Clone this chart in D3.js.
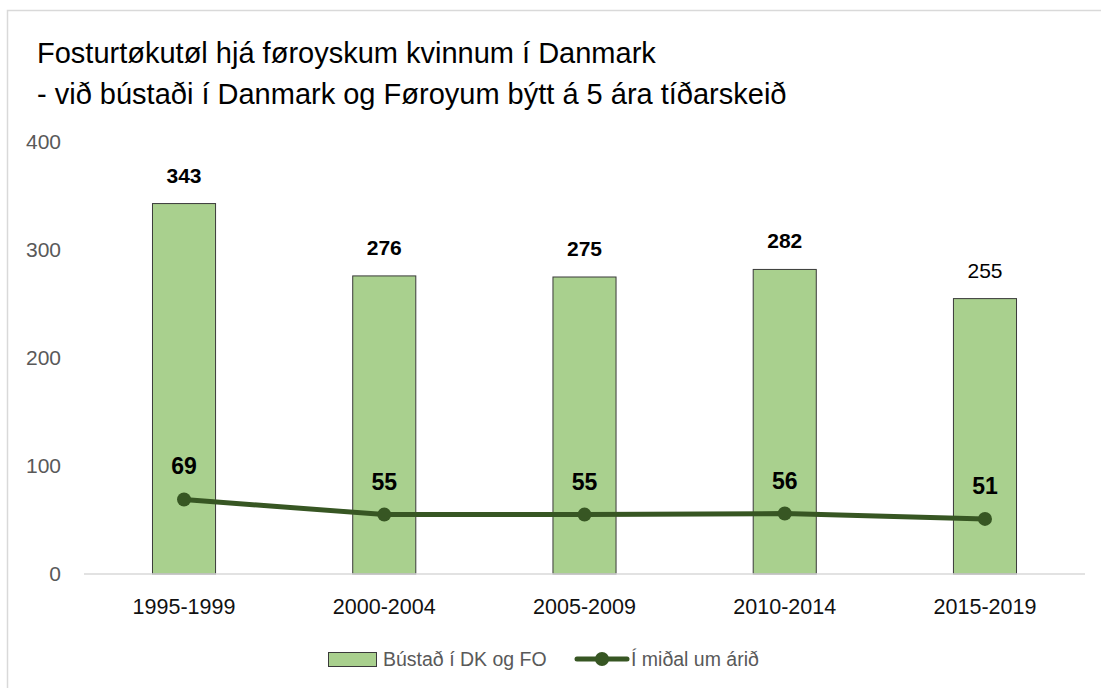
<!DOCTYPE html>
<html>
<head>
<meta charset="utf-8">
<script src="https://cdn.jsdelivr.net/npm/d3@7"></script>
<style>
  body { margin: 0; background: #fff; }
  svg { display: block; font-family: "Liberation Sans", Arial, sans-serif; }
</style>
</head>
<body>
<svg id="chart" width="1101" height="688"></svg>
<script>
// values
var periods = ["1995-1999", "2000-2004", "2005-2009", "2010-2014", "2015-2019"];
var totals = [343, 276, 275, 282, 255];
var perYear = [69, 55, 55, 56, 51];
var yTicks = [0, 100, 200, 300, 400];
var titleLines = ["Fosturtøkutøl hjá føroyskum kvinnum í Danmark",
                  "- við bústaði í Danmark og Føroyum býtt á 5 ára tíðarskeið"];
var seriesNames = ["Bústað í DK og FO", "Í miðal um árið"];

var svg = d3.select("#chart");
var barColor = "#a9d08e", lineColor = "#375623";

// outer chart frame
svg.append("rect").attr("x", 7.5).attr("y", 10.5).attr("width", 1110).attr("height", 700)
  .attr("fill", "none").attr("stroke", "#d9d9d9").attr("stroke-width", 1.5);

// title
svg.selectAll(".title").data(titleLines).enter().append("text")
  .attr("class", "title")
  .attr("x", 37).attr("y", function(d, i) { return 63 + i * 41; })
  .attr("font-size", 29).attr("fill", "#000")
  .text(function(d) { return d; });

var x = d3.scaleBand().domain(periods).range([84, 1085]).paddingInner(0.685).paddingOuter(0.342);
var y = d3.scaleLinear().domain([0, 400]).range([574, 142]);

// y axis labels (no line)
svg.append("g").selectAll("text").data(yTicks).enter().append("text")
  .attr("x", 61).attr("y", function(d) { return y(d) + 7; })
  .attr("text-anchor", "end").attr("font-size", 21).attr("fill", "#595959")
  .text(function(d) { return d; });

// bars
svg.append("g").selectAll("rect").data(totals).enter().append("rect")
  .attr("x", function(d, i) { return x(periods[i]); })
  .attr("y", function(d) { return y(d); })
  .attr("width", x.bandwidth())
  .attr("height", function(d) { return y(0) - y(d); })
  .attr("fill", barColor).attr("stroke", "#3a3a3a").attr("stroke-width", 1);

// x axis line + labels
svg.append("line").attr("x1", 84).attr("x2", 1085).attr("y1", y(0)).attr("y2", y(0))
  .attr("stroke", "#d9d9d9").attr("stroke-width", 1.5);
svg.append("g").selectAll("text").data(periods).enter().append("text")
  .attr("x", function(d) { return x(d) + x.bandwidth() / 2; })
  .attr("y", 614).attr("text-anchor", "middle").attr("font-size", 21.5).attr("fill", "#111")
  .text(function(d) { return d; });

// bar value labels (last one is plain in the original)
svg.append("g").selectAll("text").data(totals).enter().append("text")
  .attr("x", function(d, i) { return x(periods[i]) + x.bandwidth() / 2; })
  .attr("y", function(d) { return y(d) - 21; })
  .attr("text-anchor", "middle").attr("font-size", 21)
  .attr("font-weight", function(d, i) { return i < 4 ? "bold" : "normal"; })
  .attr("fill", "#000")
  .text(function(d) { return d; });

// line series
var line = d3.line()
  .x(function(d, i) { return x(periods[i]) + x.bandwidth() / 2; })
  .y(function(d) { return y(d); });
svg.append("path").datum(perYear).attr("d", line)
  .attr("fill", "none").attr("stroke", lineColor).attr("stroke-width", 5).attr("stroke-linejoin", "round");
svg.append("g").selectAll("circle").data(perYear).enter().append("circle")
  .attr("cx", function(d, i) { return x(periods[i]) + x.bandwidth() / 2; })
  .attr("cy", function(d) { return y(d); })
  .attr("r", 7).attr("fill", lineColor);
svg.append("g").selectAll("text").data(perYear).enter().append("text")
  .attr("x", function(d, i) { return x(periods[i]) + x.bandwidth() / 2; })
  .attr("y", function(d) { return y(d) - 25; })
  .attr("text-anchor", "middle").attr("font-size", 23).attr("font-weight", "bold").attr("fill", "#000")
  .text(function(d) { return d; });

// legend
var leg = svg.append("g");
leg.append("rect").attr("x", 328.5).attr("y", 652.5).attr("width", 48).attr("height", 14)
  .attr("fill", barColor).attr("stroke", "#3a3a3a").attr("stroke-width", 1);
leg.append("text").attr("x", 383).attr("y", 666).attr("font-size", 19.5).attr("fill", "#595959").text(seriesNames[0]);
leg.append("line").attr("x1", 577).attr("x2", 627).attr("y1", 659).attr("y2", 659)
  .attr("stroke", lineColor).attr("stroke-width", 5).attr("stroke-linecap", "round");
leg.append("circle").attr("cx", 602).attr("cy", 659).attr("r", 7).attr("fill", lineColor);
leg.append("text").attr("x", 631).attr("y", 666).attr("font-size", 19.5).attr("fill", "#595959").text(seriesNames[1]);
</script>
</body>
</html>
